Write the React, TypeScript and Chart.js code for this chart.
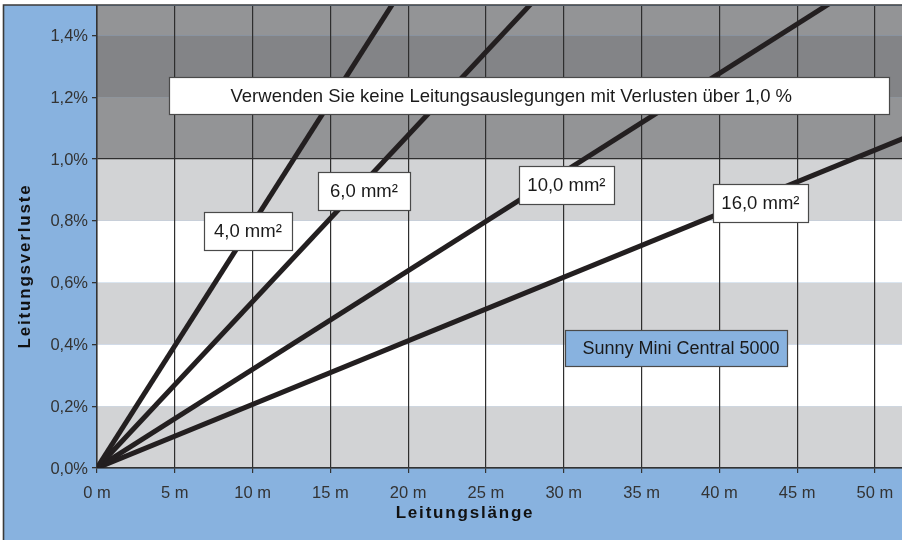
import React, { useEffect, useRef } from "react";
import { Chart, registerables } from "chart.js";

Chart.register(...registerables);

// ---- data ----
const lengthsM = [0, 52];
const loss4mm = [0, 4.11];
const loss6mm = [0, 2.8];
const loss10mm = [0, 1.66];
const loss16mm = [0, 1.07];
const cableLabels = ["4,0 mm²", "6,0 mm²", "10,0 mm²", "16,0 mm²"];

const xTickValues = [0, 5, 10, 15, 20, 25, 30, 35, 40, 45, 50];
const xTickLabels = ["0 m", "5 m", "10 m", "15 m", "20 m", "25 m", "30 m", "35 m", "40 m", "45 m", "50 m"];
const yTickValues = [0, 0.2, 0.4, 0.6, 0.8, 1.0, 1.2, 1.4];
const yTickLabels = ["0,0%", "0,2%", "0,4%", "0,6%", "0,8%", "1,0%", "1,2%", "1,4%"];

const bandEdges = [0, 0.2, 0.4, 0.6, 0.8, 1.0, 1.2, 1.4, 1.495];
const bandColors = ["#d2d3d5", "#ffffff", "#d2d3d5", "#ffffff", "#d2d3d5", "#939496", "#838487", "#939496"];

const warningText = "Verwenden Sie keine Leitungsauslegungen mit Verlusten über 1,0 %";
const deviceText = "Sunny Mini Central 5000";
const yTitle = "Leitungsverluste";
const xTitle = "Leitungslänge";

const FONT = '"Liberation Sans", Arial, sans-serif';

export default function App() {
  const ref = useRef<HTMLCanvasElement | null>(null);

  useEffect(() => {
    document.body.style.margin = "0";
    const canvas = ref.current!;
    const lineDs = (label: string, vals: number[]) => ({
      label,
      data: lengthsM.map((x, i) => ({ x, y: vals[i] })),
      borderColor: "#231f20",
      borderWidth: 5,
      pointRadius: 0,
      tension: 0,
      borderCapStyle: "butt" as const,
    });

    const bgPlugin = {
      id: "bg",
      beforeDraw(chart: any) {
        const { ctx, chartArea: a, scales } = chart;
        const y = scales.y;
        ctx.save();
        ctx.fillStyle = "#ffffff";
        ctx.fillRect(0, 0, chart.width, chart.height);
        ctx.fillStyle = "#88b2df";
        ctx.fillRect(4, 5, chart.width - 4, chart.height - 5);
        for (let i = 0; i < bandColors.length; i++) {
          const y0 = y.getPixelForValue(bandEdges[i]);
          const y1 = y.getPixelForValue(bandEdges[i + 1]);
          ctx.fillStyle = bandColors[i];
          ctx.fillRect(a.left, y1, a.right - a.left, y0 - y1);
        }
        ctx.restore();
      },
    };

    const box = (
      ctx: CanvasRenderingContext2D,
      cx: number,
      cy: number,
      w: number,
      h: number,
      text: string,
      fill: string,
      font: string,
      align: "center" | "left" = "center",
      padL = 0
    ) => {
      const x = Math.round(cx - w / 2) + 0.5;
      const y = Math.round(cy - h / 2) + 0.5;
      ctx.fillStyle = fill;
      ctx.fillRect(x, y, w, h);
      ctx.strokeStyle = "#4a4a4a";
      ctx.lineWidth = 1.2;
      ctx.strokeRect(x, y, w, h);
      ctx.font = font;
      ctx.fillStyle = "#1a1a1a";
      ctx.textBaseline = "middle";
      ctx.textAlign = align;
      ctx.fillText(text, align === "center" ? cx : x + padL, cy + 1);
    };

    const labelPlugin = {
      id: "labels",
      afterDatasetsDraw(chart: any) {
        const { ctx, scales } = chart;
        const px = (m: number) => scales.x.getPixelForValue(m);
        const py = (p: number) => scales.y.getPixelForValue(p);
        const big = `18.5px ${FONT}`;
        ctx.save();
        box(ctx, px(27.76), py(1.205), 720, 37, warningText, "#ffffff", big, "left", 61);
        box(ctx, px(9.7), py(0.768), 88, 38, cableLabels[0], "#ffffff", big);
        box(ctx, px(17.16), py(0.896), 92, 38, cableLabels[1], "#ffffff", big);
        box(ctx, px(30.17), py(0.916), 95, 38, cableLabels[2], "#ffffff", big);
        box(ctx, px(42.64), py(0.858), 95, 38, cableLabels[3], "#ffffff", big);
        box(ctx, px(37.24), py(0.388), 222, 36, deviceText, "#88b2df", `18px ${FONT}`, "left", 17);
        ctx.restore();
      },
      afterDraw(chart: any) {
        const { ctx } = chart;
        ctx.save();
        ctx.fillStyle = "#111111";
        ctx.font = `bold 17px ${FONT}`;
        (ctx as any).letterSpacing = "1.8px";
        ctx.textAlign = "center";
        ctx.textBaseline = "alphabetic";
        ctx.fillText(xTitle, 465, 518);
        ctx.translate(30, 266);
        ctx.rotate(-Math.PI / 2);
        ctx.fillText(yTitle, 0, 0);
        ctx.restore();
        ctx.save();
        ctx.strokeStyle = "#3a3a3a";
        ctx.lineWidth = 1.6;
        ctx.beginPath();
        ctx.moveTo(3.5, chart.height);
        ctx.lineTo(3.5, 5);
        ctx.lineTo(chart.width, 5);
        ctx.stroke();
        ctx.restore();
      },
    };

    const chart = new Chart(canvas, {
      type: "line",
      data: {
        datasets: [
          lineDs(cableLabels[0], loss4mm),
          lineDs(cableLabels[1], loss6mm),
          lineDs(cableLabels[2], loss10mm),
          lineDs(cableLabels[3], loss16mm),
        ],
      },
      options: {
        responsive: false,
        animation: false,
        devicePixelRatio: 1,
        layout: { padding: { top: 6, left: 0, right: 0, bottom: 0 } },
        plugins: { legend: { display: false }, tooltip: { enabled: false } },
        scales: {
          x: {
            type: "linear",
            min: 0,
            max: 51.74,
            afterBuildTicks: (s: any) => {
              s.ticks = xTickValues.map((v) => ({ value: v }));
            },
            afterFit: (s: any) => {
              s.height = 72;
              s.paddingLeft = 0;
              s.paddingRight = 0;
            },
            grid: {
              color: "#2e2e2e",
              lineWidth: 1.2,
              tickLength: 5,
              tickColor: "#333333",
            },
            border: { display: true, color: "#333333", width: 1.5 },
            ticks: {
              autoSkip: false,
              maxRotation: 0,
              padding: 11,
              color: "#333333",
              font: { family: FONT, size: 16.5 },
              callback: (_v: any, i: number) => xTickLabels[i],
            },
          },
          y: {
            type: "linear",
            min: 0,
            max: 1.495,
            afterBuildTicks: (s: any) => {
              s.ticks = yTickValues.map((v) => ({ value: v }));
            },
            afterFit: (s: any) => {
              s.width = 97;
              s.paddingTop = 0;
              s.paddingBottom = 0;
            },
            grid: {
              color: (c: any) => {
                const v = c.tick ? c.tick.value : -1;
                return v === 0 || Math.abs(v - 1) < 1e-9 ? "#2e2e2e" : "rgba(0,0,0,0)";
              },
              lineWidth: 1.3,
              tickLength: 5,
              tickColor: "#333333",
            },
            border: { display: true, color: "#333333", width: 1.5 },
            ticks: {
              padding: 4,
              labelOffset: 1,
              color: "#333333",
              font: { family: FONT, size: 16.5 },
              callback: (_v: any, i: number) => yTickLabels[i],
            },
          },
        },
      },
      plugins: [bgPlugin, labelPlugin],
    });
    return () => chart.destroy();
  }, []);

  return <canvas ref={ref} width={902} height={540} style={{ display: "block" }} />;
}
